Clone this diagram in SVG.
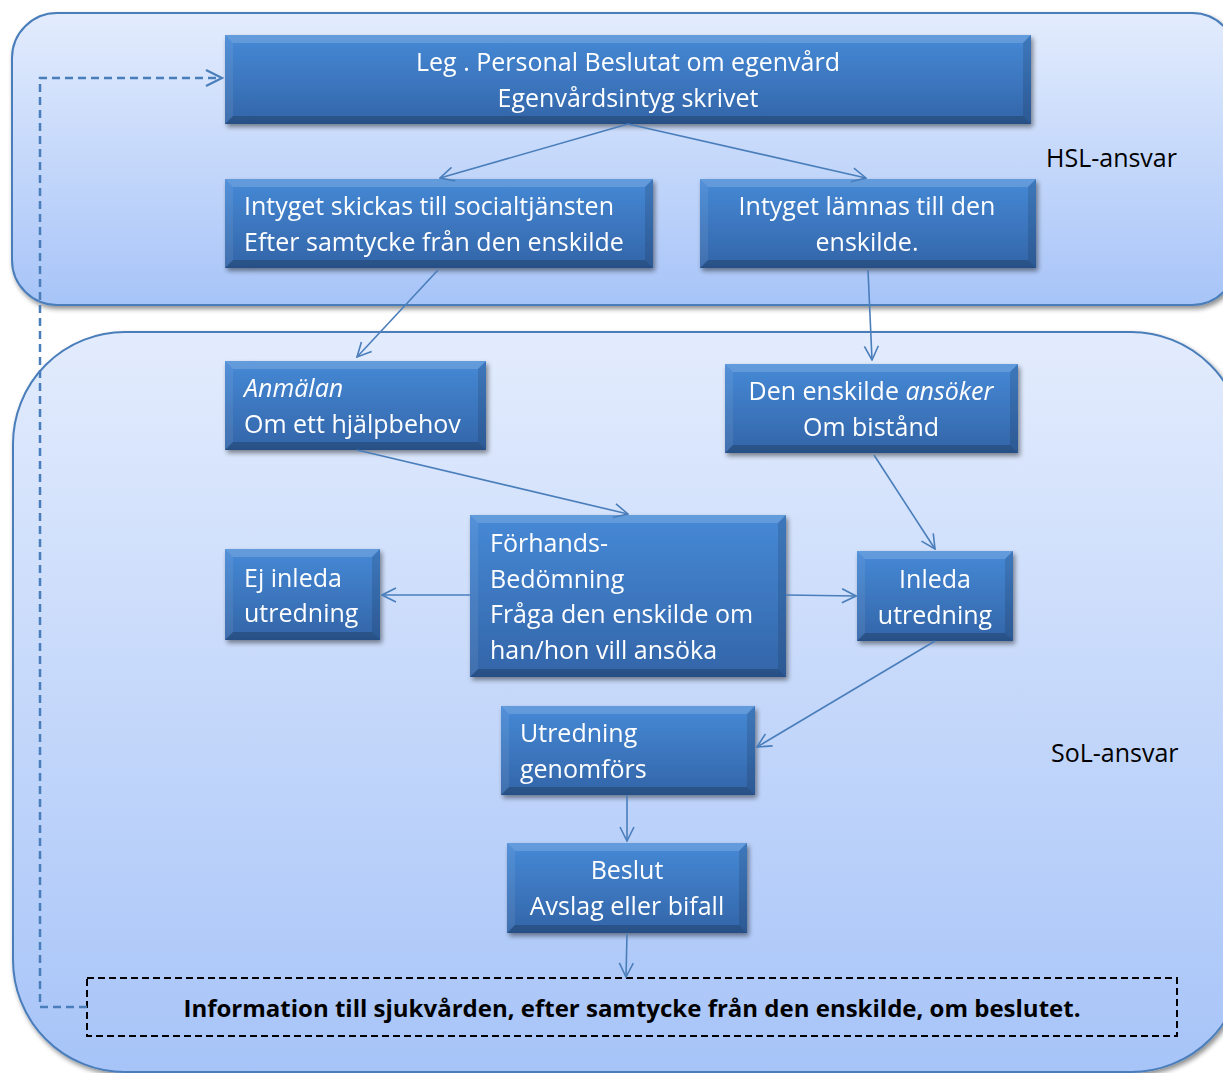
<svg xmlns="http://www.w3.org/2000/svg" width="1223" height="1073" viewBox="0 0 1223 1073">
<defs>
<linearGradient id="cont" x1="0" y1="0" x2="0" y2="1">
<stop offset="0" stop-color="#e3ecfd"/>
<stop offset="1" stop-color="#a7c4f8"/>
</linearGradient>
<linearGradient id="box" x1="0" y1="0" x2="0" y2="1">
<stop offset="0" stop-color="#4689d6"/>
<stop offset="1" stop-color="#3365a8"/>
</linearGradient>
<filter id="sh" x="-5%" y="-5%" width="110%" height="120%">
<feGaussianBlur in="SourceAlpha" stdDeviation="2.5"/>
<feOffset dx="2" dy="3" result="b"/>
<feComponentTransfer><feFuncA type="linear" slope="0.45"/></feComponentTransfer>
<feMerge><feMergeNode/><feMergeNode in="SourceGraphic"/></feMerge>
</filter>
<marker id="arr" viewBox="0 0 16 16" refX="15" refY="8" markerWidth="16" markerHeight="16" markerUnits="userSpaceOnUse" orient="auto">
<path d="M1,1 L15,8 L1,15" fill="none" stroke="#4a7ebb" stroke-width="1.6"/>
</marker>
</defs>
<style>
.cont{fill:url(#cont);stroke:#4a7ebb;stroke-width:2}
.box{fill:url(#box)}
.bt{fill:#ffffff;opacity:0.16}
.bl{fill:#ffffff;opacity:0.07}
.br{fill:#000000;opacity:0.12}
.bb{fill:#000000;opacity:0.2}
.t{font-family:"Open Sans","Liberation Sans",sans-serif;font-size:25px;fill:#ffffff}
.c{text-anchor:middle}
.lbl{font-family:"Open Sans","Liberation Sans",sans-serif;font-size:25px;fill:#000000}
.info{font-family:"Open Sans","Liberation Sans",sans-serif;font-size:24px;font-weight:bold;fill:#000000;text-anchor:middle}
.con{stroke:#4a7ebb;stroke-width:1.6;fill:none;marker-end:url(#arr)}
.dash{stroke:#4a7ebb;stroke-width:2.5;fill:none;stroke-dasharray:8 5}
</style>
<rect width="1223" height="1073" fill="#ffffff"/>
<g id="hsl-container" filter="url(#sh)">
<rect class="cont" x="12" y="13" width="1225" height="292" rx="45" ry="45"/>
</g>
<g id="sol-container" filter="url(#sh)">
<rect class="cont" x="13" y="332" width="1230" height="740" rx="112" ry="112"/>
</g>
<text class="lbl" x="1046" y="167">HSL-ansvar</text>
<text class="lbl" x="1051" y="762">SoL-ansvar</text>

<g id="n1" filter="url(#sh)">
<rect class="box" x="225" y="35" width="806" height="89"/>
<polygon class="bt" points="225,35 1031,35 1023,43 233,43"/>
<polygon class="bl" points="225,35 233,43 233,116 225,124"/>
<polygon class="br" points="1031,35 1031,124 1023,116 1023,43"/>
<polygon class="bb" points="225,124 1031,124 1023,116 233,116"/>
<text class="t c" x="628" y="71">Leg . Personal Beslutat om egenvård</text>
<text class="t c" x="628" y="107">Egenvårdsintyg skrivet</text>
</g>
<g id="n2" filter="url(#sh)">
<rect class="box" x="225" y="179" width="428" height="89"/>
<polygon class="bt" points="225,179 653,179 645,187 233,187"/>
<polygon class="bl" points="225,179 233,187 233,260 225,268"/>
<polygon class="br" points="653,179 653,268 645,260 645,187"/>
<polygon class="bb" points="225,268 653,268 645,260 233,260"/>
<text class="t" x="244" y="215">Intyget skickas till socialtjänsten</text>
<text class="t" x="244" y="251">Efter samtycke från den enskilde</text>
</g>
<g id="n3" filter="url(#sh)">
<rect class="box" x="700" y="179" width="336" height="89"/>
<polygon class="bt" points="700,179 1036,179 1028,187 708,187"/>
<polygon class="bl" points="700,179 708,187 708,260 700,268"/>
<polygon class="br" points="1036,179 1036,268 1028,260 1028,187"/>
<polygon class="bb" points="700,268 1036,268 1028,260 708,260"/>
<text class="t c" x="867" y="215">Intyget lämnas till den</text>
<text class="t c" x="867" y="251">enskilde.</text>
</g>
<g id="n4" filter="url(#sh)">
<rect class="box" x="225" y="361" width="261" height="89"/>
<polygon class="bt" points="225,361 486,361 478,369 233,369"/>
<polygon class="bl" points="225,361 233,369 233,442 225,450"/>
<polygon class="br" points="486,361 486,450 478,442 478,369"/>
<polygon class="bb" points="225,450 486,450 478,442 233,442"/>
<text class="t" x="244" y="397" font-style="italic">Anmälan</text>
<text class="t" x="244" y="433">Om ett hjälpbehov</text>
</g>
<g id="n5" filter="url(#sh)">
<rect class="box" x="725" y="364" width="293" height="89"/>
<polygon class="bt" points="725,364 1018,364 1010,372 733,372"/>
<polygon class="bl" points="725,364 733,372 733,445 725,453"/>
<polygon class="br" points="1018,364 1018,453 1010,445 1010,372"/>
<polygon class="bb" points="725,453 1018,453 1010,445 733,445"/>
<text class="t c" x="871" y="400">Den enskilde <tspan font-style="italic">ansöker</tspan></text>
<text class="t c" x="871" y="436">Om bistånd</text>
</g>
<g id="n6" filter="url(#sh)">
<rect class="box" x="470" y="515" width="316" height="162"/>
<polygon class="bt" points="470,515 786,515 778,523 478,523"/>
<polygon class="bl" points="470,515 478,523 478,669 470,677"/>
<polygon class="br" points="786,515 786,677 778,669 778,523"/>
<polygon class="bb" points="470,677 786,677 778,669 478,669"/>
<text class="t" x="490" y="552">Förhands-</text>
<text class="t" x="490" y="588">Bedömning</text>
<text class="t" x="490" y="623">Fråga den enskilde om</text>
<text class="t" x="490" y="659">han/hon vill ansöka</text>
</g>
<g id="n7" filter="url(#sh)">
<rect class="box" x="225" y="549" width="155" height="91"/>
<polygon class="bt" points="225,549 380,549 372,557 233,557"/>
<polygon class="bl" points="225,549 233,557 233,632 225,640"/>
<polygon class="br" points="380,549 380,640 372,632 372,557"/>
<polygon class="bb" points="225,640 380,640 372,632 233,632"/>
<text class="t" x="244" y="587">Ej inleda</text>
<text class="t" x="244" y="622">utredning</text>
</g>
<g id="n8" filter="url(#sh)">
<rect class="box" x="857" y="551" width="156" height="90"/>
<polygon class="bt" points="857,551 1013,551 1005,559 865,559"/>
<polygon class="bl" points="857,551 865,559 865,633 857,641"/>
<polygon class="br" points="1013,551 1013,641 1005,633 1005,559"/>
<polygon class="bb" points="857,641 1013,641 1005,633 865,633"/>
<text class="t c" x="935" y="588">Inleda</text>
<text class="t c" x="935" y="624">utredning</text>
</g>
<g id="n9" filter="url(#sh)">
<rect class="box" x="501" y="706" width="254" height="89"/>
<polygon class="bt" points="501,706 755,706 747,714 509,714"/>
<polygon class="bl" points="501,706 509,714 509,787 501,795"/>
<polygon class="br" points="755,706 755,795 747,787 747,714"/>
<polygon class="bb" points="501,795 755,795 747,787 509,787"/>
<text class="t" x="520" y="742">Utredning</text>
<text class="t" x="520" y="778">genomförs</text>
</g>
<g id="n10" filter="url(#sh)">
<rect class="box" x="507" y="843" width="240" height="90"/>
<polygon class="bt" points="507,843 747,843 739,851 515,851"/>
<polygon class="bl" points="507,843 515,851 515,925 507,933"/>
<polygon class="br" points="747,843 747,933 739,925 739,851"/>
<polygon class="bb" points="507,933 747,933 739,925 515,925"/>
<text class="t c" x="627" y="879">Beslut</text>
<text class="t c" x="627" y="915">Avslag eller bifall</text>
</g>
<g id="n11">
<rect x="87" y="978" width="1090" height="58" fill="none" stroke="#000000" stroke-width="2" stroke-dasharray="7 4"/>
<text class="info" x="632" y="1017">Information till sjukvården, efter samtycke från den enskilde, om beslutet.</text>
</g>

<g id="connectors">
<line class="con" x1="628" y1="124" x2="440" y2="178"/>
<line class="con" x1="628" y1="124" x2="866" y2="178"/>
<line class="con" x1="438" y1="270" x2="357" y2="357"/>
<line class="con" x1="868" y1="270" x2="872" y2="360"/>
<line class="con" x1="357" y1="450" x2="628" y2="514"/>
<line class="con" x1="874" y1="455" x2="935" y2="549"/>
<line class="con" x1="470" y1="595" x2="382" y2="595"/>
<line class="con" x1="786" y1="595" x2="856" y2="596"/>
<line class="con" x1="935" y1="641" x2="757" y2="747"/>
<line class="con" x1="627" y1="795" x2="627" y2="841"/>
<line class="con" x1="627" y1="934" x2="626" y2="977"/>
<polyline class="dash" points="87,1007 40,1007 40,78 221,78"/>
<path d="M206,70 L222,78 L206,86" fill="none" stroke="#4a7ebb" stroke-width="2.2"/>
</g>
</svg>
